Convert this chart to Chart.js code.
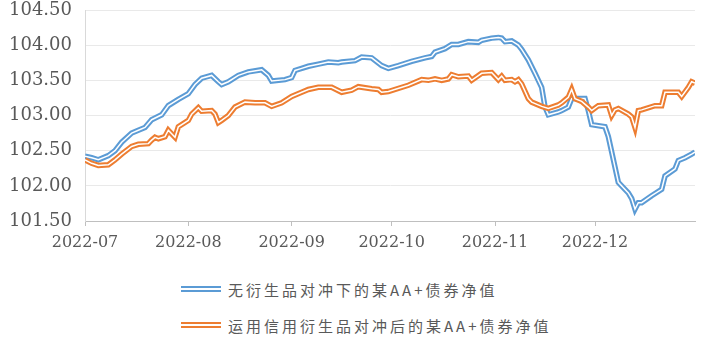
<!DOCTYPE html>
<html>
<head>
<meta charset="utf-8">
<script src="https://cdn.jsdelivr.net/npm/chart.js@4"></script>
<style>
  body { margin: 0; background: #fff; }
  #wrap { position: relative; width: 718px; height: 350px; }
  .leg { position: absolute; left: 181px; height: 18px; display: flex; align-items: center;
         font-family: "Noto Sans CJK SC", sans-serif; font-size: 15px; letter-spacing: 3px; color: #595959; }
  .sw { width: 40px; height: 1.5px; border-top: 2px solid; border-bottom: 2px solid; margin-right: 7px; }
</style>
</head>
<body>
<div id="wrap">
  <canvas id="grafico" width="718" height="262"></canvas>
  <div class="leg" style="top:280px"><div class="sw" style="border-color:#5B9BD5"></div><span id="leg0"></span></div>
  <div class="leg" style="top:316px"><div class="sw" style="border-color:#ED7D31"></div><span id="leg1"></span></div>
</div>
<script>
// Nomes das séries
const nomes = ['无衍生品对冲下的某AA+债券净值', '运用信用衍生品对冲后的某AA+债券净值'];

// Rótulos do eixo X (início de cada mês)
const meses = ['2022-07', '2022-08', '2022-09', '2022-10', '2022-11', '2022-12'];
const inicioMeses = ['2022-07-01', '2022-08-01', '2022-09-01', '2022-10-01', '2022-11-01', '2022-12-01'];
const fimEixo = '2022-12-31';

// Rótulos do eixo Y
const valoresY = [101.5, 102.0, 102.5, 103.0, 103.5, 104.0, 104.5];

// Série 1 - sem hedge
const datasSemHedge = ['2022-07-01','2022-07-03','2022-07-05','2022-07-08','2022-07-10','2022-07-12','2022-07-15','2022-07-17','2022-07-19','2022-07-21',
  '2022-07-24','2022-07-26','2022-07-29','2022-08-01','2022-08-03','2022-08-05','2022-08-08','2022-08-10','2022-08-11','2022-08-13',
  '2022-08-16','2022-08-19','2022-08-23','2022-08-25','2022-08-26','2022-08-30','2022-09-01','2022-09-02','2022-09-04','2022-09-06',
  '2022-09-09','2022-09-12','2022-09-15','2022-09-16','2022-09-20','2022-09-22','2022-09-25','2022-09-28','2022-09-30','2022-10-03',
  '2022-10-07','2022-10-11','2022-10-13','2022-10-14','2022-10-17','2022-10-19','2022-10-21','2022-10-24','2022-10-27','2022-10-28',
  '2022-10-31','2022-11-02','2022-11-03','2022-11-04','2022-11-06','2022-11-08','2022-11-09','2022-11-11','2022-11-13','2022-11-15',
  '2022-11-16','2022-11-17','2022-11-20','2022-11-21','2022-11-23','2022-11-24','2022-11-28','2022-11-29','2022-11-30','2022-12-04',
  '2022-12-05','2022-12-08','2022-12-11','2022-12-12','2022-12-13','2022-12-14','2022-12-15','2022-12-18','2022-12-21','2022-12-22',
  '2022-12-25','2022-12-26','2022-12-28','2022-12-30','2022-12-31'];
const valoresSemHedge = [102.42,102.40,102.37,102.43,102.50,102.62,102.75,102.79,102.83,102.94,
  103.01,103.14,103.23,103.31,103.44,103.53,103.57,103.48,103.44,103.48,
  103.57,103.62,103.65,103.57,103.49,103.51,103.54,103.64,103.67,103.70,
  103.73,103.76,103.75,103.76,103.78,103.83,103.82,103.71,103.67,103.71,
  103.77,103.82,103.84,103.90,103.95,104.01,104.01,104.05,104.04,104.07,
  104.10,104.11,104.10,104.05,104.06,104.00,103.94,103.79,103.60,103.40,
  103.12,103.01,103.05,103.07,103.12,103.24,103.24,103.07,102.87,102.84,
  102.70,102.05,101.90,101.82,101.67,101.76,101.76,101.86,101.95,102.14,
  102.24,102.36,102.40,102.45,102.48];

// Série 2 - com hedge
const datasComHedge = ['2022-07-01','2022-07-03','2022-07-05','2022-07-08','2022-07-10','2022-07-12','2022-07-15','2022-07-17','2022-07-20','2022-07-21',
  '2022-07-22','2022-07-23','2022-07-25','2022-07-26','2022-07-27','2022-07-28','2022-07-29','2022-08-01','2022-08-02','2022-08-04',
  '2022-08-05','2022-08-08','2022-08-09','2022-08-10','2022-08-11','2022-08-13','2022-08-15','2022-08-18','2022-08-21','2022-08-24',
  '2022-08-26','2022-08-29','2022-09-01','2022-09-04','2022-09-06','2022-09-09','2022-09-13','2022-09-16','2022-09-19','2022-09-21',
  '2022-09-25','2022-09-27','2022-09-28','2022-09-30','2022-10-06','2022-10-10','2022-10-12','2022-10-14','2022-10-16','2022-10-18',
  '2022-10-19','2022-10-21','2022-10-24','2022-10-25','2022-10-28','2022-10-31','2022-11-02','2022-11-03','2022-11-04','2022-11-06',
  '2022-11-07','2022-11-08','2022-11-09','2022-11-11','2022-11-12','2022-11-15','2022-11-17','2022-11-20','2022-11-21','2022-11-23',
  '2022-11-24','2022-11-25','2022-11-27','2022-11-29','2022-11-30','2022-12-02','2022-12-05','2022-12-06','2022-12-07','2022-12-08',
  '2022-12-11','2022-12-12','2022-12-13','2022-12-14','2022-12-15','2022-12-19','2022-12-21','2022-12-22','2022-12-26','2022-12-27',
  '2022-12-29','2022-12-30','2022-12-31'];
const valoresComHedge = [102.37,102.32,102.29,102.30,102.37,102.45,102.56,102.59,102.60,102.65,
  102.69,102.67,102.70,102.79,102.74,102.69,102.84,102.93,103.02,103.11,
  103.06,103.07,103.02,102.90,102.93,103.00,103.12,103.19,103.18,103.18,
  103.13,103.18,103.27,103.33,103.37,103.40,103.40,103.33,103.36,103.41,
  103.38,103.37,103.33,103.34,103.43,103.51,103.50,103.52,103.50,103.52,
  103.58,103.55,103.56,103.50,103.60,103.61,103.51,103.56,103.50,103.51,
  103.48,103.51,103.45,103.24,103.19,103.13,103.10,103.15,103.18,103.26,
  103.37,103.24,103.20,103.12,103.07,103.14,103.15,103.00,103.08,103.10,
  103.02,102.98,102.83,103.07,103.08,103.14,103.14,103.33,103.33,103.27,
  103.40,103.48,103.46];

const cores = ['#5B9BD5', '#ED7D31'];

// Converte data em número de dias desde 2022-07-01
function dias(s) {
    const p = s.split('-').map(Number);
    return (Date.UTC(p[0], p[1] - 1, p[2]) - Date.UTC(2022, 6, 1)) / 86400000;
}
function pontos(datas, valores) {
    return datas.map((d, i) => ({ x: dias(d), y: valores[i] }));
}

document.getElementById('leg0').textContent = nomes[0];
document.getElementById('leg1').textContent = nomes[1];

const series = [pontos(datasSemHedge, valoresSemHedge), pontos(datasComHedge, valoresComHedge)];
const ticksX = inicioMeses.map(dias);

// linha dupla: traço colorido largo + traço branco fino por cima
const datasets = [];
series.forEach((dados, i) => {
    datasets.push({ label: nomes[i], data: dados, borderColor: cores[i], borderWidth: 5.5,
        pointRadius: 0, tension: 0, order: 4 - 2 * i });
    datasets.push({ label: nomes[i] + ' ', data: dados, borderColor: '#ffffff', borderWidth: 1.5,
        pointRadius: 0, tension: 0, order: 3 - 2 * i });
});

new Chart(document.getElementById('grafico'), {
    type: 'line',
    data: { datasets: datasets },
    options: {
        responsive: false,
        animation: false,
        devicePixelRatio: 1,
        layout: { padding: { top: 10, right: 23, left: 0, bottom: 0 } },
        plugins: { legend: { display: false }, tooltip: { enabled: false } },
        scales: {
            x: {
                type: 'linear',
                min: 0,
                max: dias(fimEixo),
                afterBuildTicks: (scale) => { scale.ticks = ticksX.map(v => ({ value: v })); },
                afterFit: (scale) => { scale.height = 41; },
                ticks: {
                    callback: (v) => meses[ticksX.indexOf(v)],
                    font: { family: 'DejaVu Serif', size: 16 },
                    color: '#595959',
                    padding: 7,
                    maxRotation: 0,
                    autoSkip: false
                },
                grid: { drawOnChartArea: false, drawTicks: true, tickLength: 5, tickColor: '#bfbfbf' },
                border: { color: '#bfbfbf', width: 1 }
            },
            y: {
                min: valoresY[0],
                max: valoresY[valoresY.length - 1],
                afterBuildTicks: (scale) => { scale.ticks = valoresY.map(v => ({ value: v })); },
                afterFit: (scale) => { scale.width = 85; scale.paddingTop = 0; scale.paddingBottom = 0; },
                ticks: {
                    callback: (v) => v.toFixed(2),
                    font: { family: 'DejaVu Serif', size: 18 },
                    color: '#595959',
                    padding: 13
                },
                grid: { color: '#e9e9e9', drawTicks: false },
                border: { color: '#d9d9d9', width: 1 }
            }
        }
    }
});
</script>
</body>
</html>
